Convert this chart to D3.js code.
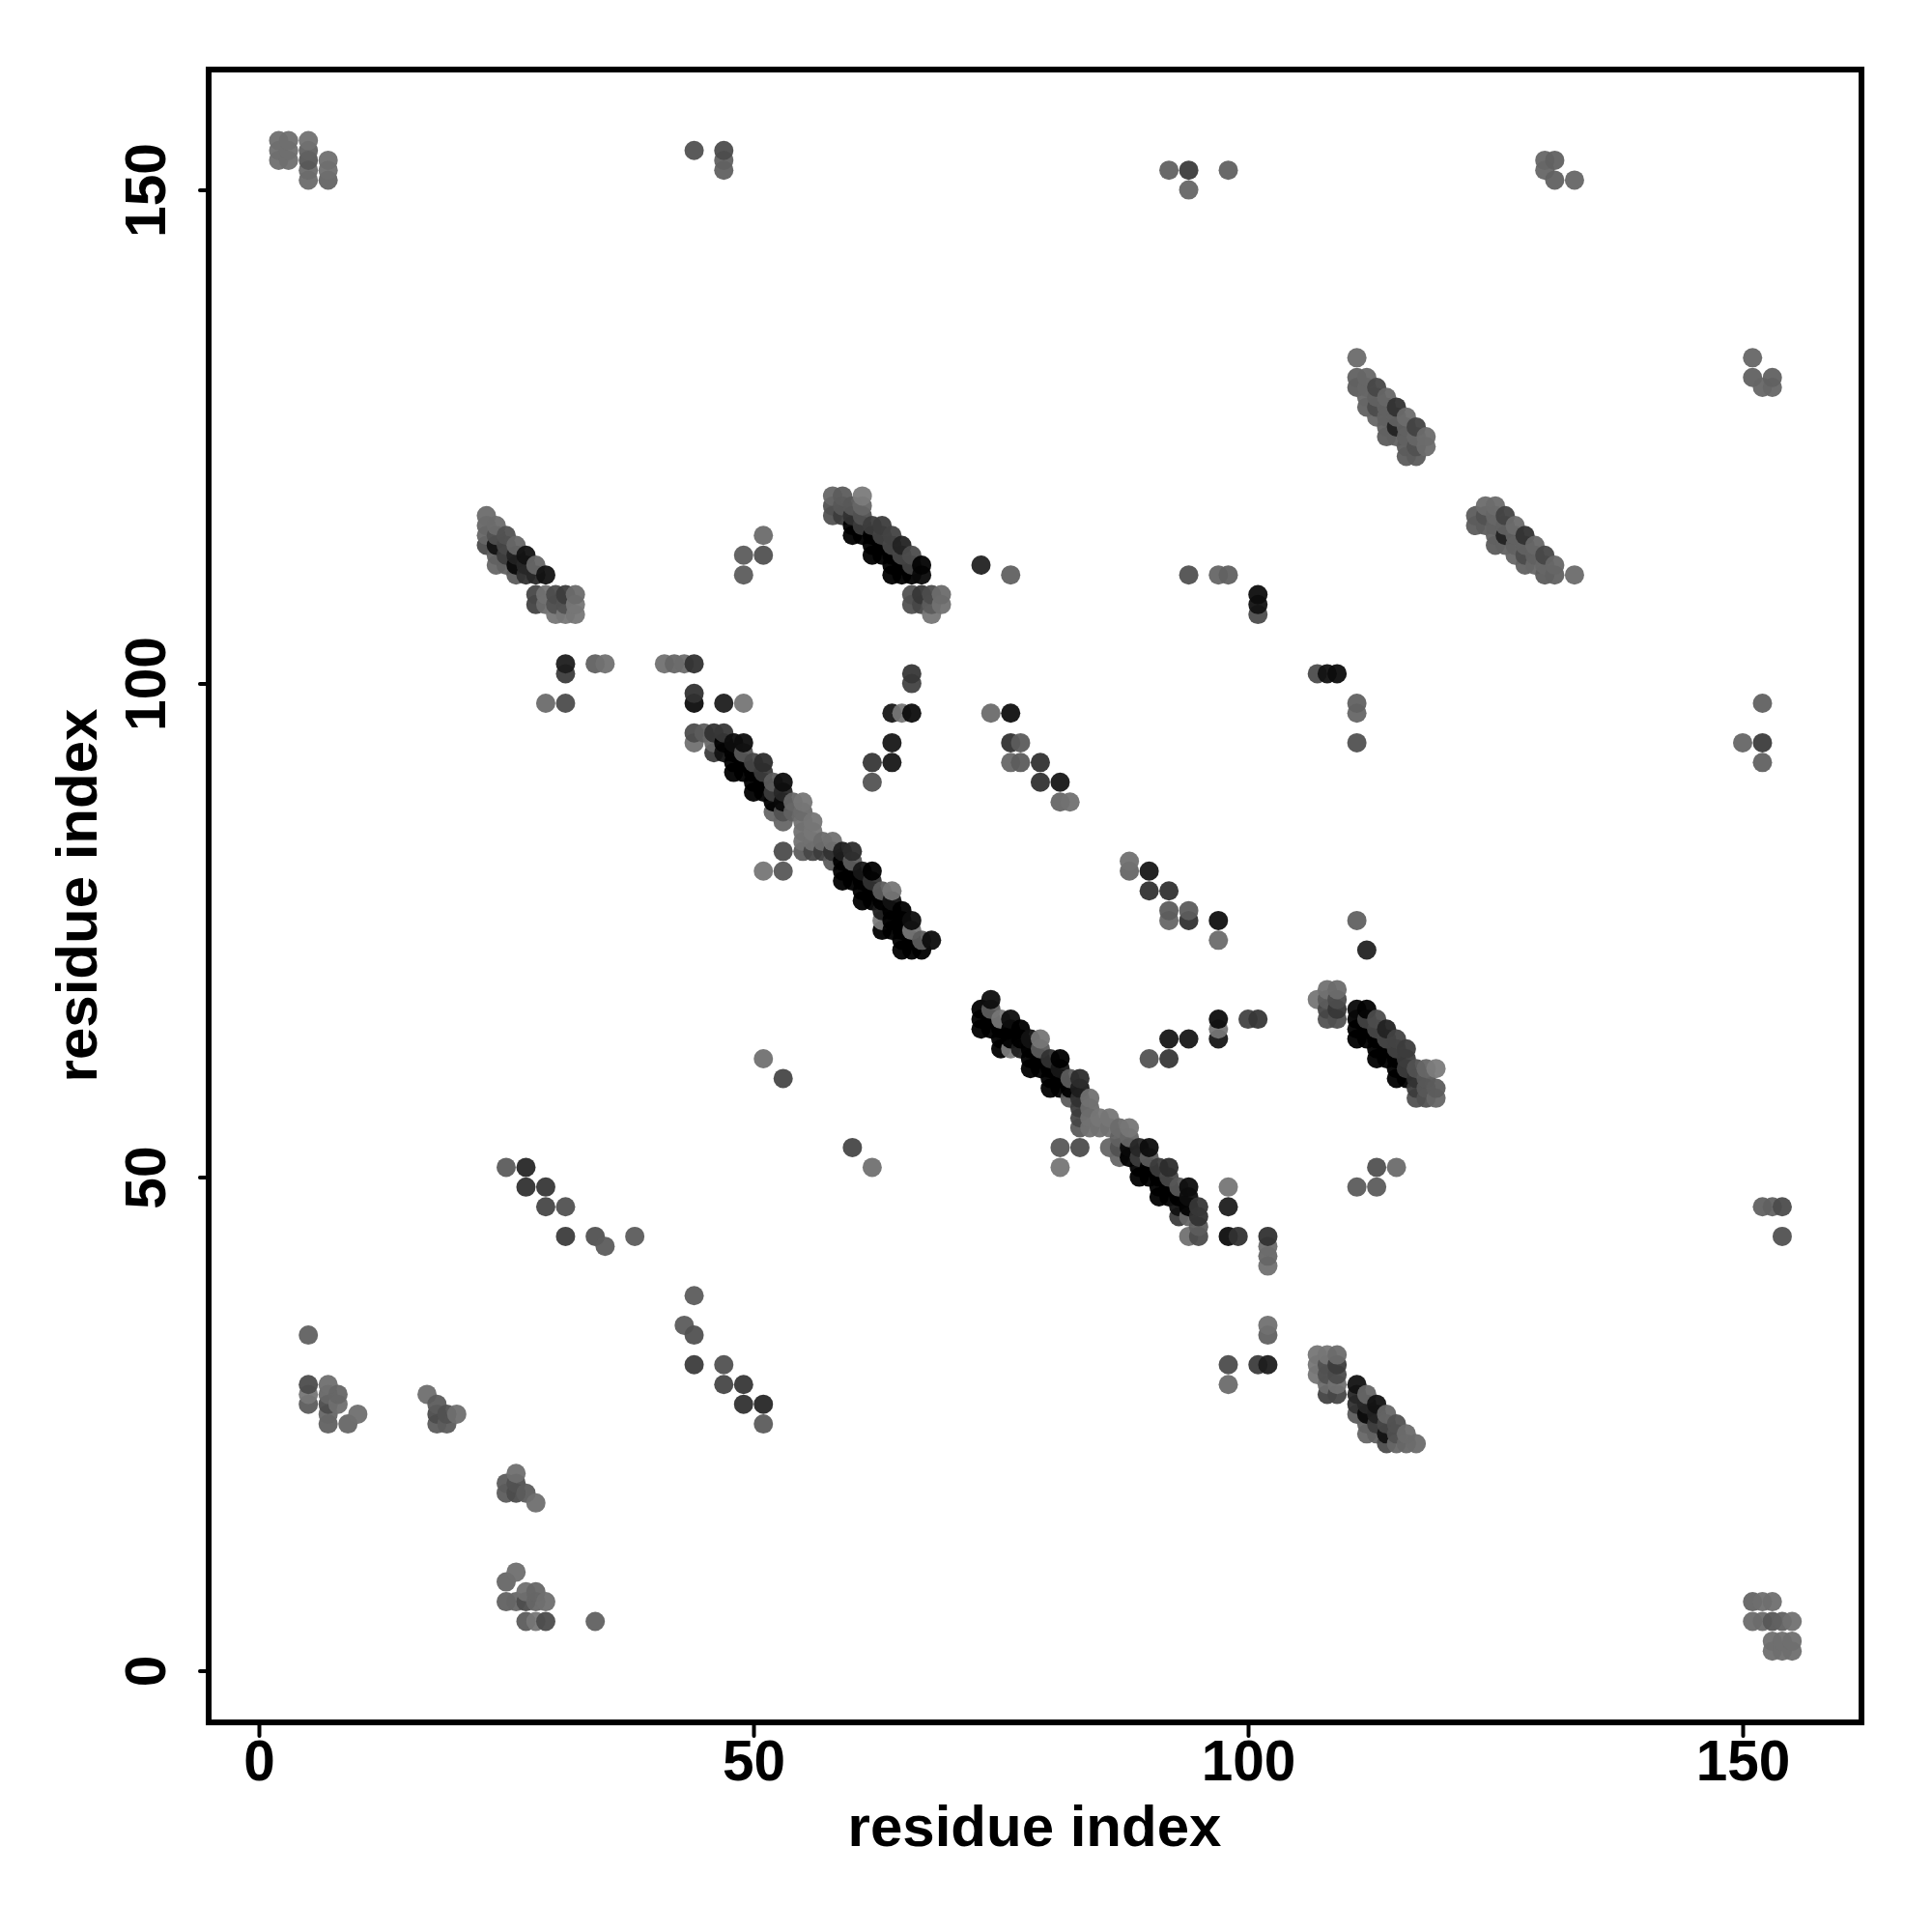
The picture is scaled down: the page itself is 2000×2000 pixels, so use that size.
<!DOCTYPE html>
<html>
<head>
<meta charset="utf-8">
<script src="https://cdn.jsdelivr.net/npm/d3@7"></script>
<style>html,body{margin:0;padding:0;background:#fff}svg{display:block}</style>
</head>
<body>
<svg id="chart" width="2000" height="2000"></svg>
<script>
// Contacts as [i, j, displayed grey level]; the map is symmetric, so only j > i is listed.
const cornerCluster = [[2,155,118],[2,154,118],[2,153,118],[3,155,118],[3,154,118],[3,153,118],[5,155,120],[5,154,105],[5,153,95],[5,152,115],[5,151,115],[7,153,118],[7,152,118],[7,151,108]];
const lowCluster = [[5,34,105],[5,29,85],[5,28,125],[5,27,100],[7,29,118],[7,28,110],[7,27,85],[7,26,110],[7,25,105],[8,28,110],[8,27,118],[9,25,110],[10,26,118],[17,28,118],[18,27,100],[18,26,85],[18,25,100],[19,26,90],[19,25,100],[20,26,118]];
const sparseA = [[25,51,100],[27,51,50],[27,49,60],[29,49,65],[29,47,80],[31,47,90],[31,44,70],[34,44,90],[35,43,100],[38,44,100],[31,102,40],[31,101,70],[29,98,115],[31,98,85],[34,102,105],[35,102,120],[41,102,120],[42,102,110],[43,102,115],[44,102,60],[44,99,60],[44,98,25],[47,98,40],[49,98,125]];
const sparseB = [[44,154,90],[47,154,85],[47,153,105],[47,152,105],[49,113,100],[51,115,115],[51,113,90],[49,111,100],[51,62,120],[53,60,80],[51,81,125],[53,81,95],[53,83,85],[62,92,65],[62,90,92],[64,92,35],[64,94,35],[64,97,35],[65,97,125],[66,97,25],[66,101,65],[66,100,75]];
const sparseC = [[74,97,115],[76,97,28],[76,94,60],[77,94,100],[76,92,110],[77,92,100],[79,92,60],[79,90,60],[81,90,35],[81,88,110],[82,88,120],[73,112,45],[76,111,105],[94,111,90],[97,111,110],[98,111,105],[101,109,25],[101,108,30],[101,107,85],[92,152,105],[94,152,70],[94,150,110],[98,152,105],[130,153,110],[131,153,105],[130,152,110],[131,151,105],[133,151,110]];
const strandShort = [[23,117,115],[23,116,110],[23,115,110],[23,114,85],[24,116,115],[24,115,90],[24,114,30],[24,113,105],[24,112,110],[25,115,90],[25,114,80],[25,113,70],[25,112,105],[26,114,110],[26,113,45],[26,112,20],[26,111,100],[27,113,30],[27,112,50],[27,111,60],[28,112,110],[28,111,50],[29,111,30]];
const blockShort = [[28,109,80],[28,108,75],[29,109,120],[29,108,115],[30,109,85],[30,108,90],[30,107,125],[31,109,70],[31,108,90],[31,107,125],[32,109,115],[32,108,125],[32,107,125]];
const strandMain = [[44,95,85],[44,94,120],[45,95,100],[46,95,60],[46,94,110],[46,93,70],[47,95,65],[47,94,15],[47,93,30],[48,94,25],[48,93,10],[48,92,5],[48,91,5],[49,94,25],[49,93,95],[49,92,5],[49,91,5],[50,92,80],[50,91,5],[50,90,5],[50,89,8],[51,92,55],[51,91,70],[51,90,5],[51,89,8],[52,90,100],[52,89,70],[52,88,8],[52,87,110],[53,90,25],[53,89,50],[53,88,20],[53,87,90],[53,86,110],[54,88,110],[54,87,105],[55,88,125],[55,87,115],[55,86,120],[55,85,120],[55,84,120],[55,83,100],[56,86,125],[56,85,125],[56,84,120],[56,83,80],[57,84,115],[57,83,70],[58,84,120],[58,83,60],[58,82,100],[59,83,40],[59,82,5],[59,81,5],[59,80,5],[60,83,55],[60,82,100],[60,81,5],[60,80,5],[61,81,35],[61,80,5],[61,79,5],[61,78,5],[62,81,10],[62,80,60],[62,79,8],[62,78,5],[63,79,100],[63,78,5],[63,77,40],[63,76,130],[63,75,10],[64,79,125],[64,78,30],[64,77,5],[64,76,5],[64,75,10],[65,77,5],[65,76,5],[65,75,5],[65,74,5],[65,73,5],[66,76,25],[66,75,125],[66,74,5],[66,73,5],[67,74,100],[67,73,5],[68,74,25]];
const strandUpper = [[58,119,110],[59,119,100],[61,119,130],[58,118,90],[59,118,95],[60,118,95],[61,118,110],[58,117,90],[59,117,70],[60,117,60],[61,117,90],[60,116,8],[61,116,70],[62,116,70],[60,115,8],[61,115,8],[62,115,8],[62,114,8],[62,113,8],[63,116,70],[63,115,75],[63,114,10],[63,113,8],[64,115,75],[64,114,80],[64,113,8],[64,112,5],[64,111,5],[65,114,45],[65,113,80],[65,112,5],[65,111,5],[66,113,85],[66,112,75],[66,111,10],[67,112,15],[67,111,20]];
const blockUpper = [[66,109,90],[66,108,90],[67,109,65],[67,108,80],[68,109,85],[68,108,100],[68,107,125],[69,109,115],[69,108,120]];
const strandFar = [[111,133,115],[111,131,105],[111,130,100],[112,131,110],[112,130,110],[112,129,110],[112,128,105],[113,130,80],[113,129,105],[113,128,85],[113,127,110],[114,129,110],[114,128,105],[114,127,105],[114,126,105],[114,125,100],[115,128,60],[115,127,105],[115,126,45],[115,125,105],[116,127,115],[116,126,105],[116,125,105],[116,124,100],[116,123,100],[117,126,75],[117,125,110],[117,124,90],[117,123,100],[118,125,115],[118,124,115]];

const tickValues = [0, 50, 100, 150];
const axisLabel = "residue index";

const contacts = [cornerCluster, lowCluster, sparseA, sparseB, sparseC, strandShort, blockShort, strandMain, strandUpper, blockUpper, strandFar].flat();
const allPoints = contacts
  .flatMap(([i, j, s]) => [{x: i, y: j, s}, {x: j, y: i, s}])
  .sort((a, b) => d3.ascending(a.x, b.x) || d3.ascending(a.y, b.y));

const x = d3.scaleLinear().domain([0, 150]).range([268, 1804]);
const y = d3.scaleLinear().domain([0, 150]).range([1729.6, 196.6]);
const frame = {left: 216, right: 1927, top: 72, bottom: 1783};
const font = "'Liberation Sans', Arial, Helvetica, sans-serif";
const titleSize = 60;
const tickSize = 58.5;
const fill = d3.scaleLinear().domain([12.75, 255]).range([0, 255]).clamp(true);

const svg = d3.select("#chart");

svg.append("g").selectAll("circle").data(allPoints).join("circle")
  .attr("cx", d => x(d.x))
  .attr("cy", d => y(d.y))
  .attr("r", 10)
  .attr("fill", d => { const v = Math.round(fill(d.s)); return `rgb(${v},${v},${v})`; })
  .attr("fill-opacity", 0.95);

const styleAxis = g => {
  g.select(".domain").remove();
  g.selectAll(".tick line").attr("stroke", "#000").attr("stroke-width", 4).attr("stroke-linecap", "round");
  g.selectAll(".tick text").attr("font-family", font).attr("font-weight", "bold").attr("font-size", tickSize).attr("fill", "#000");
};

svg.append("g").attr("transform", `translate(0,${frame.bottom})`)
  .call(d3.axisBottom(x).tickValues(tickValues).tickFormat(d3.format("d")).tickSize(14).tickPadding(4))
  .call(styleAxis);

svg.append("g").attr("transform", `translate(${frame.left},0)`)
  .call(d3.axisLeft(y).tickValues(tickValues).tickFormat(d3.format("d")).tickSize(9).tickPadding(0))
  .call(styleAxis)
  .call(g => g.selectAll(".tick text")
    .attr("transform", "rotate(-90)")
    .attr("x", 0).attr("y", -45)
    .attr("dy", 0)
    .attr("text-anchor", "middle"));

svg.append("rect")
  .attr("x", frame.left).attr("y", frame.top)
  .attr("width", frame.right - frame.left).attr("height", frame.bottom - frame.top)
  .attr("fill", "none").attr("stroke", "#000").attr("stroke-width", 6);

svg.append("text").attr("x", 1071).attr("y", 1911).attr("text-anchor", "middle")
  .attr("font-family", font).attr("font-weight", "bold").attr("font-size", titleSize).text(axisLabel);
svg.append("text").attr("transform", "translate(100,927) rotate(-90)").attr("text-anchor", "middle")
  .attr("font-family", font).attr("font-weight", "bold").attr("font-size", titleSize).text(axisLabel);
</script>
</body>
</html>
